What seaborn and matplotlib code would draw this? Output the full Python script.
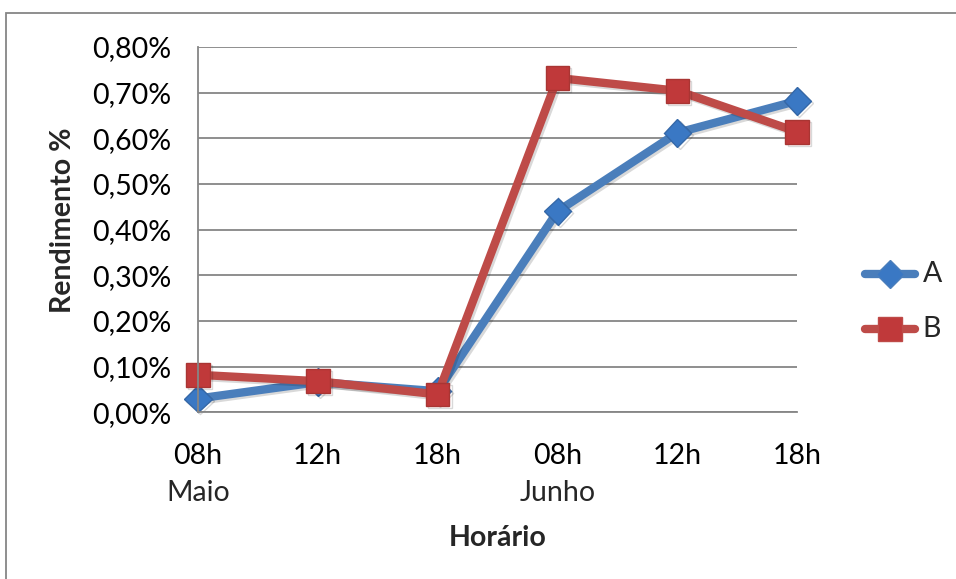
import pandas as pd
import matplotlib.pyplot as plt
import seaborn as sns
from matplotlib.patches import Rectangle
from matplotlib.ticker import FuncFormatter
import matplotlib.patheffects as pe

horas = ['08h', '12h', '18h', '08h', '12h', '18h']
meses = ['Maio', 'Junho']
serie_a = [0.03, 0.066, 0.046, 0.44, 0.612, 0.682]
serie_b = [0.082, 0.068, 0.039, 0.732, 0.704, 0.614]


def build_frame():
    rows = []
    for i in range(len(horas)):
        rows.append({'pos': i, 'valor': serie_a[i], 'serie': 'A'})
        rows.append({'pos': i, 'valor': serie_b[i], 'serie': 'B'})
    return pd.DataFrame(rows)


def main():
    sns.set_style('white')
    plt.rcParams['font.family'] = ['Lato', 'DejaVu Sans']
    data = build_frame()
    fs = 20.5

    fig = plt.figure(figsize=(9.56, 5.79), dpi=100)
    ax = fig.add_axes([0.207, 0.288, 0.627, 0.631])

    shadow = [pe.SimpleLineShadow(offset=(1.5, -1.5), alpha=0.15), pe.Normal()]
    sns.lineplot(data=data, x='pos', y='valor', hue='serie', style='serie',
                 palette={'A': '#4A7EBB', 'B': '#BE4B48'},
                 markers={'A': 'D', 'B': 's'}, dashes=False,
                 linewidth=6, markersize=15, ax=ax, legend=False)
    for line, face, edge, size in zip(ax.lines, ['#3A78C4', '#C0393A'],
                                      ['#3568A8', '#A93533'], [14, 17]):
        line.set_markerfacecolor(face)
        line.set_markeredgecolor(edge)
        line.set_markeredgewidth(1)
        line.set_markersize(size)
        line.set_solid_capstyle('round')
        line.set_path_effects(shadow)
        line.set_clip_on(False)

    ax.set_xlim(0, 5)
    ax.set_ylim(0, 0.8)
    ax.set_xlabel('')
    ax.set_ylabel('')
    ax.set_yticks([i / 10 for i in range(9)])
    ax.yaxis.set_major_formatter(FuncFormatter(
        lambda v, p: f'{v:.2f}'.replace('.', ',') + '%'))
    ax.set_xticks(range(len(horas)))
    ax.set_xticklabels(horas)
    ax.tick_params(axis='both', labelsize=fs, colors='black', length=7,
                   width=1.3, direction='out')
    ax.tick_params(axis='both', color='#868686')
    ax.tick_params(axis='x', pad=15)
    ax.tick_params(axis='y', pad=12)
    ax.yaxis.grid(True, color='#868686', linewidth=1.3)
    ax.set_axisbelow(True)
    for side in ['top', 'right']:
        ax.spines[side].set_visible(False)
    for side in ['left', 'bottom']:
        ax.spines[side].set_color('#868686')
        ax.spines[side].set_linewidth(1.3)

    for pos, mes in zip([0, 3], meses):
        ax.text(pos, -0.222, mes, transform=ax.get_xaxis_transform(),
                ha='center', va='center', fontsize=fs)

    fig.text(0.521, 0.071, 'Horário', fontsize=fs, fontweight='bold',
             ha='center', va='center')
    fig.text(0.066, 0.62, 'Rendimento %', fontsize=fs, fontweight='bold',
             ha='center', va='center', rotation=90)

    # legenda
    for y, nome, color, face, mk, size in [(0.527, 'A', '#4A7EBB', '#3A78C4', 'D', 14),
                                           (0.432, 'B', '#BE4B48', '#C0393A', 's', 17)]:
        fig.lines.append(plt.Line2D([0.905, 0.957], [y, y], transform=fig.transFigure,
                                    color=color, linewidth=6, solid_capstyle='round'))
        fig.lines.append(plt.Line2D([0.931], [y], transform=fig.transFigure,
                                    marker=mk, markersize=size, color=face,
                                    markeredgecolor=color, linestyle='none'))
        fig.text(0.965, y, nome, fontsize=fs, va='center', ha='left')

    fig.patches.append(Rectangle((0.006, -0.05), 1.1, 1.028, transform=fig.transFigure,
                                 fill=False, edgecolor='#868686', linewidth=1.3))

    fig.savefig('out.png', dpi=100)


main()
